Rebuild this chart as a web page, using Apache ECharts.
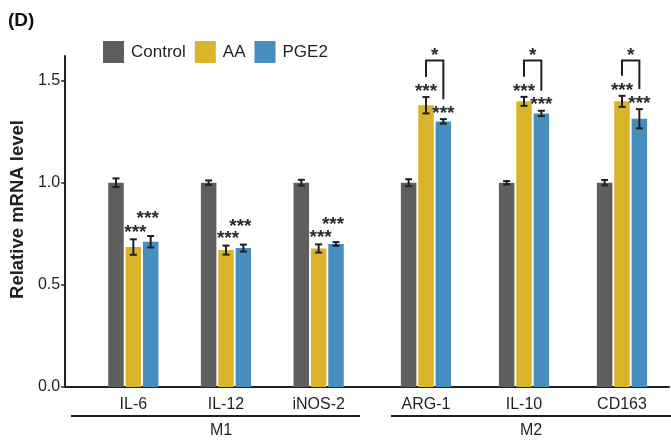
<!DOCTYPE html>
<html><head><meta charset="utf-8">
<script src="https://cdn.jsdelivr.net/npm/echarts@6/dist/echarts.min.js"></script>
<style>html,body{margin:0;padding:0;background:#fff}#c{width:671px;height:441px}</style>
</head><body><div id="c"></div>
<script>
// ---------- data ----------
const seriesNames = ['Control', 'AA', 'PGE2'];
const categoriesM1 = ['IL-6', 'IL-12', 'iNOS-2'];
const categoriesM2 = ['ARG-1', 'IL-10', 'CD163'];
const groupLabels = ['M1', 'M2'];

const controlM1 = [1.00, 1.00, 1.00];
const controlErrM1 = [0.021, 0.011, 0.014];
const aaM1 = [0.685, 0.670, 0.678];
const aaErrM1 = [0.038, 0.022, 0.020];
const pgeM1 = [0.711, 0.680, 0.700];
const pgeErrM1 = [0.028, 0.017, 0.009];

const controlM2 = [1.00, 1.00, 1.00];
const controlErrM2 = [0.017, 0.008, 0.013];
const aaM2 = [1.379, 1.398, 1.398];
const aaErrM2 = [0.040, 0.022, 0.027];
const pgeM2 = [1.300, 1.339, 1.313];
const pgeErrM2 = [0.011, 0.013, 0.047];

const sigAAM1 = ['***', '***', '***'];
const sigPgeM1 = ['***', '***', '***'];
const sigAAM2 = ['***', '***', '***'];
const sigPgeM2 = ['***', '***', '***'];
const sigPairM2 = ['*', '*', '*'];   // AA vs PGE2

const yTicks = [0, 0.5, 1.0, 1.5];
const yMax = 1.62;
const bracketLevel = 1.598;

// ---------- style ----------
const INK = '#231f20';
const COLORS = ['#5e5e5e', '#d9b42a', '#478dbd'];
const FONT = '"Liberation Sans", Arial, Helvetica, sans-serif';
const BAR_W = 15.5;
const BAR_GAP = '12%';
const TOP = 56, BOTTOM = 54;

function barSeries(gridIdx, arrs) {
  return arrs.map((arr, k) => ({
    type: 'bar', name: seriesNames[k], xAxisIndex: gridIdx, yAxisIndex: gridIdx,
    data: arr, barWidth: BAR_W, barGap: BAR_GAP,
    itemStyle: { color: COLORS[k] }, emphasis: { disabled: true }, z: 2
  }));
}

function errSeries(gridIdx, vals, errs, sigs, starCfg, pair) {
  return {
    type: 'custom', xAxisIndex: gridIdx, yAxisIndex: gridIdx, z: 5, silent: true,
    data: vals[0].map((_, i) => [i]),
    renderItem(params, api) {
      const i = api.value(0);
      const layout = api.barLayout({ count: 3, barWidth: BAR_W, barGap: BAR_GAP });
      const cx = api.coord([i, 0])[0];
      const ch = [];
      const starC = [], xs = [];
      const ln = (x1, y1, x2, y2) => ({ type: 'line', shape: { x1, y1, x2, y2 },
        style: { stroke: INK, lineWidth: 2 } });
      for (let k = 0; k < 3; k++) {
        const v = vals[k][i], e = errs[k][i];
        const x = cx + layout[k].offsetCenter;
        xs[k] = x;
        const yt = api.coord([i, v + e])[1];
        const yb = api.coord([i, v - e])[1];
        ch.push(ln(x, yt, x, yb), ln(x - 3.5, yt, x + 3.5, yt), ln(x - 3.5, yb, x + 3.5, yb));
        if (sigs[k] && sigs[k][i]) {
          const cy = yt - starCfg[k].dy;
          starC[k] = cy;
          ch.push({ type: 'text', style: { text: sigs[k][i], x: x + starCfg[k].dx, y: cy + 4.5,
            align: 'center', verticalAlign: 'middle', font: 'bold 19px ' + FONT, fill: '#2b2b2b' } });
        }
      }
      if (pair && pair[i]) {
        const yTop = api.coord([i, bracketLevel])[1];
        ch.push({ type: 'polyline', shape: { points: [[xs[1], starC[1] - 10], [xs[1], yTop],
          [xs[2], yTop], [xs[2], starC[2] - 10]] }, style: { stroke: INK, lineWidth: 2, fill: null } });
        ch.push({ type: 'text', style: { text: pair[i], x: (xs[1] + xs[2]) / 2, y: yTop - 9 + 4.5,
          align: 'center', verticalAlign: 'middle', font: 'bold 19px ' + FONT, fill: '#2b2b2b' } });
      }
      return { type: 'group', children: ch };
    }
  };
}

const hiddenY = (i) => ({ type: 'value', gridIndex: i, min: 0, max: yMax, show: false });
const catX = (i, cats) => ({
  type: 'category', gridIndex: i, data: cats,
  axisLine: { show: false }, axisTick: { show: false },
  axisLabel: { color: INK, fontSize: 16, fontFamily: FONT, margin: 10 }
});

const option = {
  animation: false,
  backgroundColor: '#fff',
  textStyle: { fontFamily: FONT },
  title: { text: '(D)', left: 3, top: 6, textStyle: { fontSize: 19, fontWeight: 'bold', color: '#111', fontFamily: FONT } },
  legend: {
    data: seriesNames, left: 98, top: 36, icon: 'rect', itemWidth: 21, itemHeight: 22, itemGap: 9,
    textStyle: { fontSize: 17, color: INK, fontFamily: FONT, padding: [0, 0, 0, 2] }, selectedMode: false
  },
  grid: [
    { left: 62, right: 2, top: TOP, bottom: BOTTOM },
    { left: 87, width: 278, top: TOP, bottom: BOTTOM },
    { left: 377, width: 300, top: TOP, bottom: BOTTOM }
  ],
  xAxis: [
    { type: 'value', gridIndex: 0, min: 0, max: 1, axisLine: { show: true, onZero: false, lineStyle: { color: INK, width: 2 } },
      axisTick: { show: false }, axisLabel: { show: false }, splitLine: { show: false } },
    catX(1, categoriesM1),
    catX(2, categoriesM2)
  ],
  yAxis: [
    { type: 'value', gridIndex: 0, min: 0, max: yMax,
      name: 'Relative mRNA level', nameLocation: 'middle', nameGap: 34,
      nameTextStyle: { fontSize: 18.5, fontWeight: 'bold', color: INK, fontFamily: FONT, padding: [0, 0, 0, 24] },
      axisLine: { show: true, lineStyle: { color: INK, width: 2 } },
      axisTick: { show: true, length: 4, customValues: yTicks, lineStyle: { color: INK, width: 1.5 } },
      axisLabel: { customValues: yTicks, formatter: v => v.toFixed(1), color: INK, fontSize: 16, fontFamily: FONT, margin: 5 },
      splitLine: { show: false } },
    hiddenY(1), hiddenY(2)
  ],
  graphic: [
    { type: 'line', shape: { x1: 71, y1: 416, x2: 360, y2: 416 }, style: { stroke: INK, lineWidth: 2 } },
    { type: 'line', shape: { x1: 391, y1: 416, x2: 671, y2: 416 }, style: { stroke: INK, lineWidth: 2 } },
    { type: 'text', x: 221, y: 431, style: { text: groupLabels[0], align: 'center', verticalAlign: 'middle', font: '16px ' + FONT, fill: INK } },
    { type: 'text', x: 531, y: 431, style: { text: groupLabels[1], align: 'center', verticalAlign: 'middle', font: '16px ' + FONT, fill: INK } }
  ],
  series: [
    ...barSeries(1, [controlM1, aaM1, pgeM1]),
    ...barSeries(2, [controlM2, aaM2, pgeM2]),
    errSeries(1, [controlM1, aaM1, pgeM1], [controlErrM1, aaErrM1, pgeErrM1],
      [null, sigAAM1, sigPgeM1], [null, { dy: 11, dx: 2 }, { dy: 22, dx: -3 }], null),
    errSeries(2, [controlM2, aaM2, pgeM2], [controlErrM2, aaErrM2, pgeErrM2],
      [null, sigAAM2, sigPgeM2], [null, { dy: 10, dx: 0 }, { dy: 10, dx: 0 }], sigPairM2)
  ]
};

const chart = echarts.init(document.getElementById('c'), null, { renderer: 'canvas' });
chart.setOption(option);
</script>
</body></html>
